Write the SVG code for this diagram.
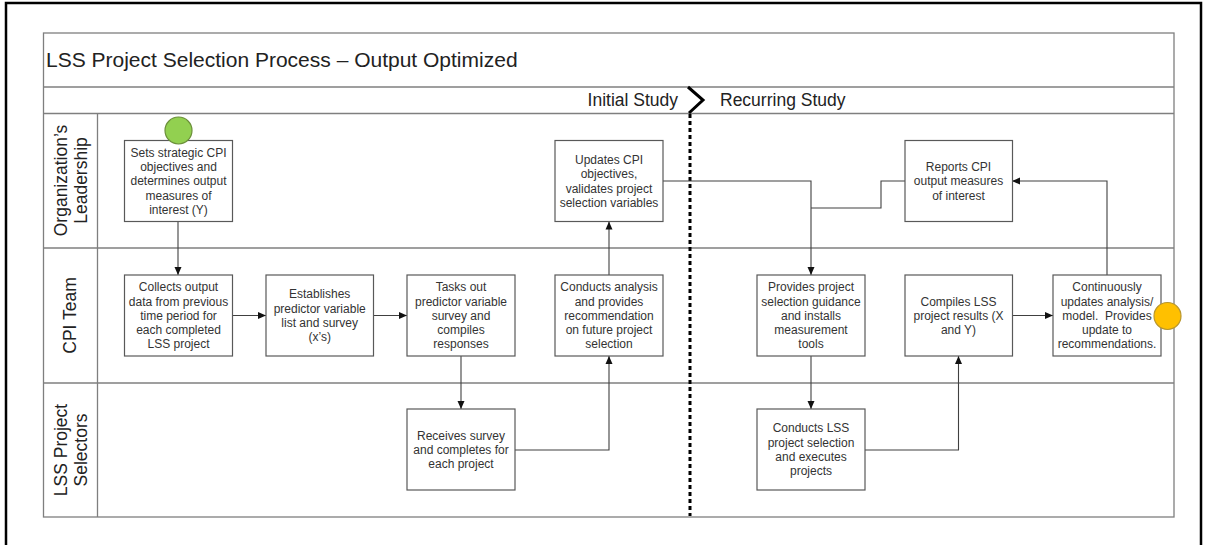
<svg xmlns="http://www.w3.org/2000/svg" width="1205" height="545" viewBox="0 0 1205 545">
<style>
.frame{fill:none;stroke:#000;stroke-width:2.5}
.grid{fill:none;stroke:#7f7f7f;stroke-width:1.3}
.box{fill:#fff;stroke:#595959;stroke-width:1.2}
.bt{font-family:"Liberation Sans",Arial,sans-serif;font-size:12px;fill:#333;text-anchor:middle}
.lane{font-family:"Liberation Sans",Arial,sans-serif;font-size:17.5px;fill:#222;text-anchor:middle}
.phase{font-family:"Liberation Sans",Arial,sans-serif;font-size:17.5px;fill:#222}
.title{font-family:"Liberation Sans",Arial,sans-serif;font-size:21px;fill:#222}
.conn{fill:none;stroke:#404040;stroke-width:1.1}
</style>
<defs>
<marker id="ah" markerUnits="userSpaceOnUse" markerWidth="8" markerHeight="8" refX="8" refY="4" orient="auto">
<path d="M0,0.5 L8,4 L0,7.5 z" fill="#111"/>
</marker>
</defs>
<rect x="0" y="0" width="1205" height="545" fill="#fff"/>
<rect class="frame" x="6" y="3" width="1195" height="580"/>
<g id="pool">
<rect class="grid" x="43.5" y="33" width="1130.5" height="484"/>
<line class="grid" x1="43.5" y1="87" x2="1174" y2="87"/>
<line class="grid" x1="43.5" y1="113.5" x2="1174" y2="113.5"/>
<line class="grid" x1="43.5" y1="248" x2="1174" y2="248"/>
<line class="grid" x1="43.5" y1="383" x2="1174" y2="383"/>
<line class="grid" x1="97.5" y1="113.5" x2="97.5" y2="517"/>
<text class="title" x="46" y="66.5">LSS Project Selection Process – Output Optimized</text>
<text class="phase" x="678" y="106" text-anchor="end">Initial Study</text>
<text class="phase" x="720" y="106">Recurring Study</text>
<path d="M688,87 L703,100 L689,113" fill="none" stroke="#000" stroke-width="3"/>
<line x1="690" y1="114" x2="690" y2="516" stroke="#000" stroke-width="3" stroke-dasharray="4 3"/>
</g>
<g id="lane-leadership">
<text class="lane" transform="translate(70,180.5) rotate(-90)"><tspan x="0" y="-3.5">Organization’s</tspan><tspan x="0" y="16.5">Leadership</tspan></text>
</g>
<g id="lane-cpi">
<text class="lane" transform="translate(70,315.5) rotate(-90)"><tspan x="0" y="6">CPI Team</tspan></text>
</g>
<g id="lane-selectors">
<text class="lane" transform="translate(70,450) rotate(-90)"><tspan x="0" y="-3.5">LSS Project</tspan><tspan x="0" y="16.5">Selectors</tspan></text>
</g>
<g id="connectors">
<path class="conn" d="M178,221.5 V275" marker-end="url(#ah)"/>
<path class="conn" d="M232,315.5 H266" marker-end="url(#ah)"/>
<path class="conn" d="M373,315.5 H407" marker-end="url(#ah)"/>
<path class="conn" d="M461,356 V409" marker-end="url(#ah)"/>
<path class="conn" d="M515,450 H609 V356" marker-end="url(#ah)"/>
<path class="conn" d="M609,275 V221.5" marker-end="url(#ah)"/>
<path class="conn" d="M663,181 H811 V275" marker-end="url(#ah)"/>
<path class="conn" d="M905,181 H881 V208 H811"/>
<path class="conn" d="M811,356 V409" marker-end="url(#ah)"/>
<path class="conn" d="M865,450 H958.5 V356" marker-end="url(#ah)"/>
<path class="conn" d="M1012,315.5 H1053" marker-end="url(#ah)"/>
<path class="conn" d="M1107,275 V181 H1012" marker-end="url(#ah)"/>
</g>
<g id="n-sets">
<rect class="box" x="124.5" y="140.5" width="108" height="81"/>
<text class="bt"><tspan x="178.5" y="156.7">Sets strategic CPI</tspan><tspan x="178.5" y="171">objectives and</tspan><tspan x="178.5" y="185.3">determines output</tspan><tspan x="178.5" y="199.6">measures of</tspan><tspan x="178.5" y="213.9">interest (Y)</tspan></text>
</g>
<g id="start">
<circle cx="178.5" cy="130.5" r="13.5" fill="#92d050" stroke="#6b8f3a" stroke-width="1.2"/>
</g>
<g id="n-updates">
<rect class="box" x="555" y="140.5" width="108" height="81"/>
<text class="bt"><tspan x="609" y="163.9">Updates CPI</tspan><tspan x="609" y="178.2">objectives,</tspan><tspan x="609" y="192.5">validates project</tspan><tspan x="609" y="206.8">selection variables</tspan></text>
</g>
<g id="n-reports">
<rect class="box" x="905" y="140.5" width="107.5" height="81"/>
<text class="bt"><tspan x="958.5" y="171">Reports CPI</tspan><tspan x="958.5" y="185.3">output measures</tspan><tspan x="958.5" y="199.6">of interest</tspan></text>
</g>
<g id="n-collects">
<rect class="box" x="124.5" y="275" width="108" height="81"/>
<text class="bt"><tspan x="178.5" y="291.2">Collects output</tspan><tspan x="178.5" y="305.5">data from previous</tspan><tspan x="178.5" y="319.8">time period for</tspan><tspan x="178.5" y="334.1">each completed</tspan><tspan x="178.5" y="348.4">LSS project</tspan></text>
</g>
<g id="n-establishes">
<rect class="box" x="266" y="275" width="107.5" height="81"/>
<text class="bt"><tspan x="319.7" y="298.4">Establishes</tspan><tspan x="319.7" y="312.7">predictor variable</tspan><tspan x="319.7" y="327">list and survey</tspan><tspan x="319.7" y="341.3">(x’s)</tspan></text>
</g>
<g id="n-tasks">
<rect class="box" x="407" y="275" width="108" height="81"/>
<text class="bt"><tspan x="461" y="291.2">Tasks out</tspan><tspan x="461" y="305.5">predictor variable</tspan><tspan x="461" y="319.8">survey and</tspan><tspan x="461" y="334.1">compiles</tspan><tspan x="461" y="348.4">responses</tspan></text>
</g>
<g id="n-conducts-analysis">
<rect class="box" x="555" y="275" width="108" height="81"/>
<text class="bt"><tspan x="609" y="291.2">Conducts analysis</tspan><tspan x="609" y="305.5">and provides</tspan><tspan x="609" y="319.8">recommendation</tspan><tspan x="609" y="334.1">on future project</tspan><tspan x="609" y="348.4">selection</tspan></text>
</g>
<g id="n-provides">
<rect class="box" x="757" y="275" width="108" height="81"/>
<text class="bt"><tspan x="811" y="291.2">Provides project</tspan><tspan x="811" y="305.5">selection guidance</tspan><tspan x="811" y="319.8">and installs</tspan><tspan x="811" y="334.1">measurement</tspan><tspan x="811" y="348.4">tools</tspan></text>
</g>
<g id="n-compiles">
<rect class="box" x="905" y="275" width="107.5" height="81"/>
<text class="bt"><tspan x="958.5" y="305.5">Compiles LSS</tspan><tspan x="958.5" y="319.8">project results (X</tspan><tspan x="958.5" y="334.1">and Y)</tspan></text>
</g>
<g id="n-continuously">
<rect class="box" x="1053" y="275" width="108" height="81"/>
<text class="bt"><tspan x="1107" y="291.2">Continuously</tspan><tspan x="1107" y="305.5">updates analysis/</tspan><tspan x="1107" y="319.8">model.&#160; Provides</tspan><tspan x="1107" y="334.1">update to</tspan><tspan x="1107" y="348.4">recommendations.</tspan></text>
</g>
<g id="end">
<circle cx="1167.5" cy="316" r="13.5" fill="#ffc000" stroke="#b8962e" stroke-width="1.2"/>
</g>
<g id="n-receives">
<rect class="box" x="407" y="409" width="108" height="81"/>
<text class="bt"><tspan x="461" y="439.5">Receives survey</tspan><tspan x="461" y="453.8">and completes for</tspan><tspan x="461" y="468.1">each project</tspan></text>
</g>
<g id="n-conducts-lss">
<rect class="box" x="757" y="409" width="108" height="81"/>
<text class="bt"><tspan x="811" y="432.4">Conducts LSS</tspan><tspan x="811" y="446.7">project selection</tspan><tspan x="811" y="461">and executes</tspan><tspan x="811" y="475.3">projects</tspan></text>
</g>
</svg>
